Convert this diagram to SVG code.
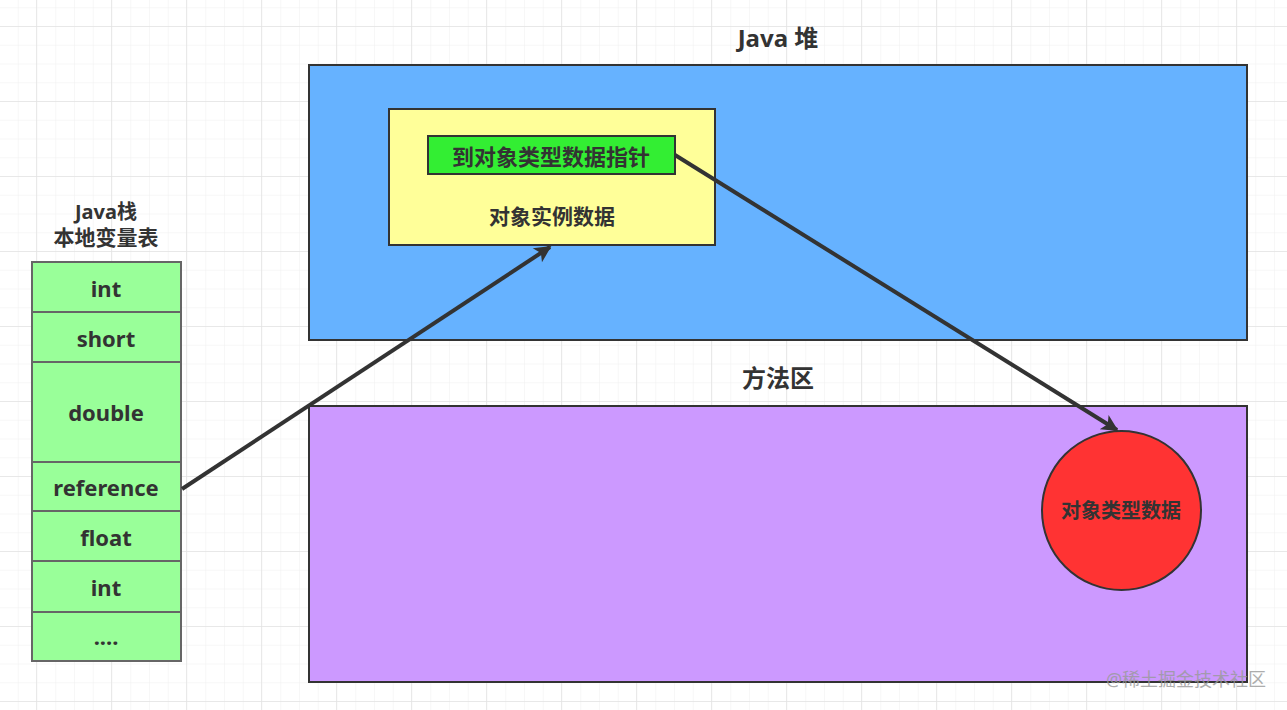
<svg xmlns="http://www.w3.org/2000/svg" width="1287" height="710" viewBox="0 0 1287 710">
<defs>
<pattern id="minor" x="0" y="8.25" width="18.75" height="18.75" patternUnits="userSpaceOnUse"><path d="M18.75 0V18.75M0 18.75H18.75" fill="none" stroke="#efefef" stroke-width="1"/></pattern>
<pattern id="major" x="-38" y="-48" width="75" height="75" patternUnits="userSpaceOnUse"><path d="M75 0V75M0 75H75" fill="none" stroke="#e4e4e4" stroke-width="1.5"/></pattern>
<marker id="ah" viewBox="0 0 10 10" refX="9" refY="5" markerWidth="5" markerHeight="4.2" orient="auto" markerUnits="strokeWidth"><path d="M0 0L10 5L0 10L2.5 5Z" fill="#333"/></marker>
</defs>
<style>
text{font-family:"Noto Sans","Noto Sans CJK SC",sans-serif;font-weight:bold;fill:#333;text-anchor:middle;dominant-baseline:central}
.box{stroke:#333;stroke-width:2}
.cell{fill:#99ff99;stroke:#666;stroke-width:2}
.lbl{font-size:22px}
.conn{fill:none;stroke:#333;stroke-width:4;marker-end:url(#ah)}
</style>
<rect width="1287" height="710" fill="#fff"/>
<rect width="1287" height="710" fill="url(#minor)"/>
<rect width="1287" height="710" fill="url(#major)"/>
<g id="heap">
<text x="778" y="37" font-size="24">Java 堆</text>
<rect class="box" x="309" y="65" width="938" height="275" fill="#66b2ff"/>
</g>
<g id="instance">
<rect class="box" x="389" y="109" width="326" height="136" fill="#ffff99"/>
<text x="552" y="216" font-size="21">对象实例数据</text>
</g>
<g id="pointer">
<rect class="box" x="428" y="136" width="247" height="38" fill="#33ee33"/>
<text x="551" y="156" font-size="22">到对象类型数据指针</text>
</g>
<g id="method-area">
<text x="778" y="377" font-size="24">方法区</text>
<rect class="box" x="309" y="406" width="938" height="276" fill="#cc99ff"/>
</g>
<g id="type-data">
<ellipse class="box" cx="1121.5" cy="510.5" rx="79.5" ry="79.5" fill="#ff3333"/>
<text x="1121" y="510" font-size="20">对象类型数据</text>
</g>
<g id="stack">
<text x="106" y="211" font-size="20">Java栈</text>
<text x="106" y="237" font-size="21">本地变量表</text>
<rect class="cell" x="32" y="262" width="149" height="50"/>
<text class="lbl" x="106" y="288">int</text>
<rect class="cell" x="32" y="312" width="149" height="50"/>
<text class="lbl" x="106" y="338">short</text>
<rect class="cell" x="32" y="362" width="149" height="100"/>
<text class="lbl" x="106" y="412">double</text>
<rect class="cell" x="32" y="462" width="149" height="49"/>
<text class="lbl" x="106" y="487">reference</text>
<rect class="cell" x="32" y="511" width="149" height="50"/>
<text class="lbl" x="106" y="537">float</text>
<rect class="cell" x="32" y="561" width="149" height="51"/>
<text class="lbl" x="106" y="587">int</text>
<rect class="cell" x="32" y="612" width="149" height="49"/>
<text class="lbl" x="106" y="636">....</text>
</g>
<g id="connectors">
<line class="conn" x1="182" y1="489" x2="550" y2="247"/>
<line class="conn" x1="675" y1="155" x2="1117" y2="430"/>
</g>
<text x="1186" y="679" font-size="18" style="font-weight:normal;fill:#999;opacity:0.8">@稀土掘金技术社区</text>
</svg>
